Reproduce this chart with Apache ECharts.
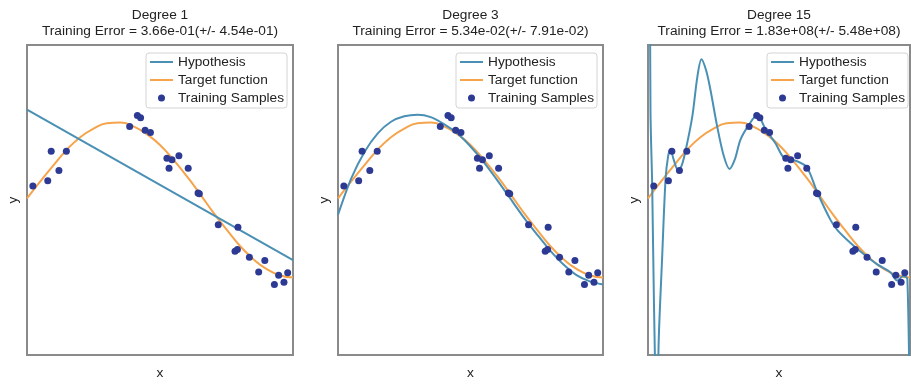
<!DOCTYPE html>
<html>
<head>
<meta charset="utf-8">
<script src="https://cdn.jsdelivr.net/npm/echarts@6/dist/echarts.min.js"></script>
<style>
html,body{margin:0;padding:0;background:#fff;}
#chart{width:911px;height:385px;}
</style>
</head>
<body>
<div id="chart"></div>
<script>
// ---- Data ----
var panelTitles = ['Degree 1', 'Degree 3', 'Degree 15'];
var errorTexts = [
  'Training Error = 3.66e-01(+/- 4.54e-01)',
  'Training Error = 5.34e-02(+/- 7.91e-02)',
  'Training Error = 1.83e+08(+/- 5.48e+08)'
];

// training samples
var sampleX = [0.022, 0.078, 0.091, 0.120, 0.148, 0.386, 0.415, 0.427, 0.444, 0.464,
               0.526, 0.534, 0.545, 0.571, 0.606, 0.643, 0.648, 0.719, 0.793, 0.782,
               0.791, 0.836, 0.871, 0.894, 0.930, 0.946, 0.966, 0.980];
var sampleY = [0.18, 0.25, 0.63, 0.38, 0.63, 0.95, 1.09, 1.06, 0.90, 0.87,
               0.54, 0.41, 0.52, 0.57, 0.41, 0.09, 0.08, -0.32, -0.35, -0.66,
               -0.64, -0.74, -0.93, -0.78, -1.09, -0.97, -1.06, -0.94];

// target function (orange)
var targetX = [0, 0.05, 0.1, 0.15, 0.2, 0.25, 0.3, 0.35, 0.4, 0.45, 0.5,
               0.55, 0.6, 0.65, 0.7, 0.75, 0.8, 0.85, 0.9, 0.95, 1.0];
var targetY = [0.02, 0.24, 0.45, 0.65, 0.81, 0.92, 0.99, 1.0, 0.95, 0.85, 0.71,
               0.52, 0.31, 0.08, -0.16, -0.38, -0.59, -0.76, -0.89, -0.97, -1.0];

// hypothesis, degree 1
var hyp1X = [0, 1];
var hyp1Y = [1.165, -0.776];

// hypothesis, degree 3
var hyp3X = [0, 0.05, 0.1, 0.15, 0.2, 0.25, 0.3, 0.35, 0.4, 0.45, 0.5,
             0.55, 0.6, 0.65, 0.7, 0.75, 0.8, 0.85, 0.9, 0.95, 1.0];
var hyp3Y = [-0.19, 0.28, 0.62, 0.86, 1.01, 1.08, 1.10, 1.07, 0.98, 0.86, 0.69,
             0.49, 0.26, 0.02, -0.22, -0.44, -0.65, -0.83, -0.97, -1.05, -1.09];

// hypothesis, degree 15
var hyp15X = [0, 0.0095, 0.016, 0.023, 0.034, 0.041, 0.054, 0.067, 0.077, 0.086, 0.098, 0.115, 0.128,
              0.143, 0.169, 0.188, 0.204, 0.222, 0.239, 0.264, 0.289, 0.311, 0.331, 0.353, 0.385,
              0.417, 0.449, 0.487, 0.518, 0.569, 0.607, 0.646, 0.697, 0.722, 0.773, 0.824, 0.875,
              0.926, 0.951, 0.974, 0.990, 1.0];
var hyp15Y = [8, 1.16, 0.19, -1.38, -3.0, -1.8, -0.74, 0.27, 0.57, 0.65, 0.52, 0.38, 0.44,
              0.63, 1.075, 1.58, 1.816, 1.67, 1.41, 0.95, 0.57, 0.40, 0.52, 0.78, 0.97,
              1.10, 0.91, 0.73, 0.55, 0.50, 0.42, 0.10, -0.26, -0.385, -0.555, -0.70, -0.83,
              -0.935, -1.04, -0.98, -1.02, -3.5];

// ---- Chart ----
var FONT = '"Liberation Sans", Arial, Helvetica, sans-serif';
var BLUE = '#4a90b4', ORANGE = '#f6a44c', DOT = '#2d3a94';
var FS = 13.7;

function zip(xs, ys) { return xs.map(function (x, i) { return [x, ys[i]]; }); }

var grids = [
  {left: 27, top: 45, width: 266, height: 315},
  {left: 338, top: 45, width: 265, height: 315},
  {left: 648, top: 45, width: 262, height: 315}
];
var hyps = [[hyp1X, hyp1Y, false], [hyp3X, hyp3Y, 0.3], [hyp15X, hyp15Y, 0.3]];
var legendRight = [911 - 287, 911 - 597, 911 - 908];

var option = {
  animation: false,
  backgroundColor: '#fff',
  title: [], grid: [], xAxis: [], yAxis: [], legend: [], series: []
};

var hiddenSymbol = {opacity: 0, color: 'rgba(0,0,0,0)', borderWidth: 0};

grids.forEach(function (g, i) {
  option.grid.push({left: g.left, top: g.top, width: g.width, height: g.height,
    show: true, borderColor: '#8a8a8a', borderWidth: 2, backgroundColor: '#fff'});
  option.title.push({
    text: panelTitles[i] + '\n' + errorTexts[i],
    left: g.left + g.width / 2, top: 7, textAlign: 'center', padding: 0,
    textStyle: {fontSize: FS, fontWeight: 'normal', color: '#222', fontFamily: FONT, lineHeight: 16}
  });
  option.xAxis.push({
    type: 'value', gridIndex: i, min: 0, max: 1,
    name: 'x', nameLocation: 'middle', nameGap: 11,
    nameTextStyle: {fontSize: FS, color: '#222', fontFamily: FONT},
    axisLine: {show: false}, axisTick: {show: false}, axisLabel: {show: false}, splitLine: {show: false}
  });
  option.yAxis.push({
    type: 'value', gridIndex: i, min: -2, max: 2,
    name: 'y', nameLocation: 'middle', nameGap: 7, nameRotate: 90,
    nameTextStyle: {fontSize: FS, color: '#222', fontFamily: FONT},
    axisLine: {show: false}, axisTick: {show: false}, axisLabel: {show: false}, splitLine: {show: false}
  });
  option.legend.push({
    data: [
      {name: 'Hypothesis', itemStyle: hiddenSymbol},
      {name: 'Target function', itemStyle: hiddenSymbol},
      {name: 'Training Samples'}
    ],
    orient: 'vertical', right: legendRight[i], top: 53,
    itemWidth: 23, itemHeight: 7, itemGap: 4,
    padding: [2, 3, 3, 3],
    backgroundColor: '#fff', borderColor: '#d4d4d4', borderWidth: 1, borderRadius: 3,
    textStyle: {fontSize: FS, color: '#222', fontFamily: FONT}
  });
  var h = hyps[i];
  option.series.push({
    name: 'Hypothesis', type: 'line', xAxisIndex: i, yAxisIndex: i,
    data: zip(h[0], h[1]), smooth: h[2], symbol: 'none', clip: true,
    lineStyle: {color: BLUE, width: 2}, itemStyle: {color: BLUE}, z: 3
  });
  option.series.push({
    name: 'Target function', type: 'line', xAxisIndex: i, yAxisIndex: i,
    data: zip(targetX, targetY), smooth: 0.5, symbol: 'none', clip: true,
    lineStyle: {color: ORANGE, width: 2}, itemStyle: {color: ORANGE}, z: 2
  });
  option.series.push({
    name: 'Training Samples', type: 'scatter', xAxisIndex: i, yAxisIndex: i,
    data: zip(sampleX, sampleY), symbol: 'circle', symbolSize: 7,
    itemStyle: {color: DOT, opacity: 1}, z: 4
  });
});

var chart = echarts.init(document.getElementById('chart'), null, {renderer: 'canvas'});
chart.setOption(option);
</script>
</body>
</html>
